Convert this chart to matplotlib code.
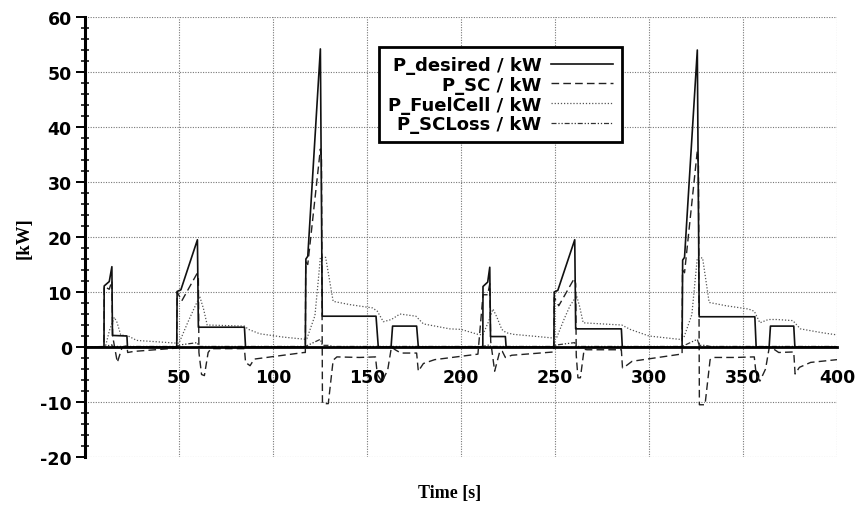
import matplotlib.pyplot as plt
from matplotlib.ticker import MultipleLocator

plt.rcParams['axes.unicode_minus'] = False

# time stamps [s] and power values [kW]
t_des = [0, 10.1, 10.2, 12.9, 14.3, 14.6, 22.3, 22.6, 48.8, 49.0, 51.0, 59.8, 60.3,
         84.8, 85.4, 117.2, 117.5, 118.5, 125.2, 126.2, 154.8, 156.0, 162.8, 163.6,
         176.4, 177.3,
         211.6, 211.7, 214.2, 215.3, 215.7, 223.6, 224.0, 249.4, 249.6, 251.5, 260.5,
         261.0, 285.3, 285.8, 317.6, 317.9, 318.9, 325.7, 326.7, 356.3, 357.0, 363.9,
         364.6, 377.0, 377.6, 400]
p_des = [0, 0, 11.1, 11.9, 14.6, 2.1, 2.0, 0, 0, 10.1, 10.4, 19.5, 3.6,
         3.6, 0, 0, 16.0, 16.5, 54.2, 5.6, 5.6, 0, 0, 3.8,
         3.8, 0,
         0, 11.0, 11.8, 14.5, 1.9, 1.9, 0, 0, 10.0, 10.3, 19.5,
         3.3, 3.3, 0, 0, 15.8, 16.3, 54.0, 5.5, 5.5, 0, 0,
         3.8, 3.8, 0, 0]

t_sc = [0, 10.1, 10.2, 12.9, 14.3, 14.7, 17.2, 19.8, 22.3, 22.7, 26.0, 48.8, 49.0,
        51.5, 59.5, 60.3, 60.6, 62.0, 63.5, 65.5, 67.0, 84.8, 85.4, 87.8, 90.0, 116.5,
        117.2, 117.4, 118.5, 125.2, 125.8, 126.3, 129.4, 132.0, 134.0, 146.0, 154.5,
        155.5, 158.0, 161.0, 163.0, 165.0, 168.0, 176.4, 177.3, 180.0, 186.0, 209.0,
        211.7, 214.2, 215.3, 215.8, 217.9, 220.7, 222.0, 223.6, 224.0, 227.0, 249.4,
        249.6, 252.0, 260.3, 261.0, 261.3, 262.2, 263.5, 265.5, 267.0, 285.3, 285.9,
        287.5, 291.0, 316.9, 317.6, 317.8, 318.9, 325.7, 326.3, 326.8, 329.8, 332.5,
        334.5, 346.0, 356.0, 357.0, 359.0, 362.0, 364.0, 366.0, 369.0, 377.0, 377.7,
        380.0, 386.0, 400]
p_sc = [0, 0, 11.0, 10.5, 12.0, 2.0, -2.8, 0.0, 0.2, -1.0, -0.8, -0.2, 10.0,
        8.4, 13.3, 12.5, -1.0, -5.0, -5.2, -1.0, -0.3, -0.3, -2.8, -3.4, -2.2, -1.0,
        -1.0, 15.5, 15.0, 36.0, 34.0, -10.3, -10.3, -2.4, -1.8, -1.9, -1.8,
        -5.0, -6.3, -4.2, 0.0, -0.5, -1.1, -1.1, -4.4, -3.0, -2.3, -1.3,
        9.5, 9.5, 11.5, 1.0, -4.4, -0.7, -0.8, -1.9, -1.9, -1.5, -0.9,
        9.0, 7.5, 12.5, 11.5, -1.5, -5.6, -5.6, -0.4, -0.5, -0.5, -3.8,
        -3.5, -2.6, -1.3, -1.3, 14.0, 13.5, 35.7, 33.0, -10.5, -10.5, -2.3,
        -1.9, -1.9, -1.8, -5.0, -6.2, -4.0, 0.0, -0.3, -1.0, -0.9, -4.9,
        -3.7, -2.8, -2.3]

t_fc = [0, 10.8, 13.0, 15.6, 17.0, 19.0, 23.0, 27.5, 48.8, 50.0, 54.7, 58.0, 61.0,
        63.0, 65.0, 84.8, 87.0, 93.0, 105.5, 117.2, 118.0, 122.3, 124.0, 125.2, 128.0,
        132.0, 141.0, 153.0, 155.5, 158.7, 163.0, 167.5, 176.0, 180.0, 194.0,
        200.0, 209.0, 211.6, 214.5, 217.0, 219.0, 221.7, 224.0, 228.0, 247.0, 249.6,
        251.0, 255.0, 258.0, 261.5, 263.0, 265.0, 280.0, 285.5, 290.0, 300.0, 316.0,
        317.6, 318.5, 322.8, 324.5, 325.7, 328.5, 332.0, 341.0, 353.0, 356.0, 359.0,
        363.5, 368.0, 376.5, 380.5, 392.0, 400]
p_fc = [0, 0, 3.0, 5.4, 4.5, 2.2, 2.0, 1.2, 0.7, 0.7, 4.5, 7.0, 9.2,
        7.0, 4.0, 3.8, 3.2, 2.4, 1.8, 1.4, 1.5, 5.7, 11.8, 16.3, 16.3,
        8.3, 7.7, 7.1, 6.5, 4.6, 5.0, 6.0, 5.6, 4.2, 3.3,
        3.2, 2.3, 2.2, 4.5, 6.9, 5.5, 3.2, 2.6, 2.3, 1.7, 1.6,
        1.8, 5.2, 7.5, 9.3, 7.5, 4.4, 4.1, 4.0, 3.2, 2.0, 1.4,
        1.5, 1.7, 5.9, 12.0, 16.2, 16.2, 8.1, 7.5, 6.9, 6.5, 4.4,
        5.0, 5.0, 4.8, 3.3, 2.6, 2.2]

t_loss = [0, 10.1, 14.3, 14.6, 48.8, 51.0, 59.8, 60.3, 117.2, 125.2, 126.2, 129.4,
          132.0, 211.6, 215.3, 215.7, 249.4, 251.5, 260.5, 261.0, 317.6, 325.7, 326.7,
          329.8, 332.5, 400]
p_loss = [0, 0.1, 0.4, 0.1, 0.1, 0.4, 0.8, 0.1, 0.1, 1.4, 0.3, 0.3,
          0.1, 0.1, 0.4, 0.1, 0.1, 0.4, 0.8, 0.1, 0.1, 1.4, 0.3,
          0.3, 0.1, 0.1]

x_ticks = [50, 100, 150, 200, 250, 300, 350, 400]
y_ticks = [-20, -10, 0, 10, 20, 30, 40, 50, 60]

sans = 'DejaVu Sans'
serif = 'Liberation Serif'

fig = plt.figure(figsize=(8.6, 5.06), dpi=100)
ax = fig.add_axes([85 / 860, 48 / 506, 752 / 860, 440 / 506])

ax.plot(t_des, p_des, color='#111111', lw=1.2, ls='-', label='P_desired / kW', zorder=5)
ax.plot(t_sc, p_sc, color='#222222', lw=1.0, ls=(0, (5.5, 3)), label='P_SC / kW', zorder=4)
ax.plot(t_fc, p_fc, color='#555555', lw=0.9, ls=(0, (1, 1.5)), label='P_FuelCell / kW', zorder=3)
ax.plot(t_loss, p_loss, color='#333333', lw=0.9, ls=(0, (4, 1.5, 1, 1.5, 1, 1.5)),
        label='P_SCLoss / kW', zorder=3)

ax.set_xlim(0, 400)
ax.set_ylim(-20, 60)
ax.set_xticks([0] + x_ticks)
ax.set_xticklabels([''] + [str(v) for v in x_ticks])
ax.set_yticks(y_ticks)
ax.yaxis.set_minor_locator(MultipleLocator(2))

ax.grid(True, which='major', color='#777777', ls=(0, (1, 1.3)), lw=0.8)
ax.set_axisbelow(True)

for s in ['top', 'right']:
    ax.spines[s].set_visible(False)
ax.spines['left'].set_linewidth(2.2)
ax.spines['bottom'].set_position(('data', 0))
ax.spines['bottom'].set_linewidth(2.0)
ax.spines['bottom'].set_zorder(6)

ax.tick_params(axis='x', length=0, pad=15)
ax.tick_params(axis='y', which='major', direction='out', length=6.5, width=1.4, pad=3)
ax.tick_params(axis='y', which='minor', direction='inout', length=6, width=1.1)
for lab in ax.get_xticklabels() + ax.get_yticklabels():
    lab.set_fontfamily(sans)
    lab.set_fontweight('bold')
    lab.set_fontsize(12.5)

ax.set_ylabel('[kW]', fontfamily=serif, fontweight='bold', fontsize=13.5)
ax.yaxis.set_label_coords(-0.07, 0.5)
ax.set_xlabel('Time [s]', fontfamily=serif, fontweight='bold', fontsize=13)
ax.xaxis.set_label_coords(0.485, -0.061)

leg = ax.legend(loc='upper left', bbox_to_anchor=(0.391, 0.932), borderaxespad=0,
                markerfirst=False, fancybox=False, framealpha=1, edgecolor='black',
                prop={'family': sans, 'weight': 'bold', 'size': 13},
                handlelength=3.4, handletextpad=0.55, labelspacing=0.1, borderpad=0.5)
leg.get_frame().set_linewidth(2.0)

fig.savefig('out.png', dpi=100)
